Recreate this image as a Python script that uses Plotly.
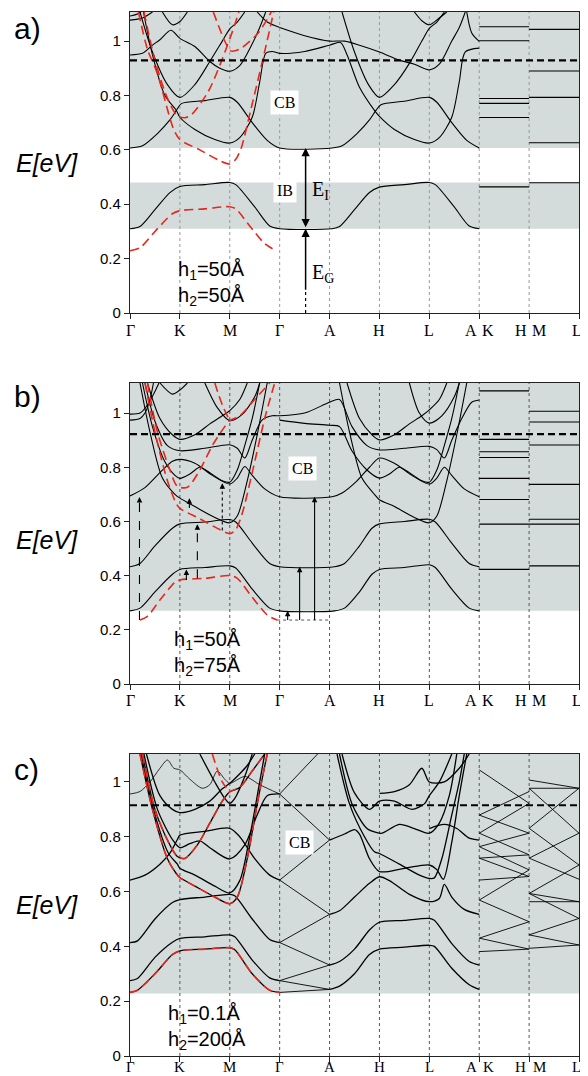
import plotly.graph_objects as go

# ---------------- axis data ----------------
k_ticks = [0, 1, 2, 3, 4, 5, 6, 7, 8, 9]
k_label_text = ["Γ", "K", "M", "Γ", "A", "H", "L", "A", "K", "H", "M", "L"]
k_label_pos = [0, 1, 2, 3, 4, 5, 6, 6.84, 7.18, 7.83, 8.2, 8.95]
e_ticks = [0, 0.2, 0.4, 0.6, 0.8, 1.0]
e_tick_text = ["0", "0.2", "0.4", "0.6", "0.8", "1"]
e_top = [1.107, 1.111, 1.102]

# shaded energy regions (bottom, top) per panel
a_shade = [(0.607, 1.107), (0.31, 0.48)]
b_shade = [(0.27, 1.111)]
c_shade = [(0.228, 1.102)]
fermi = [0.929, 0.922, 0.915]

# ---------------- panel a ----------------
a_ib = [(0, 0.31), (0.2, 0.318), (0.5, 0.38), (0.8, 0.443), (1, 0.465), (1.5, 0.472), (2, 0.48), (2.12, 0.472),
        (2.5, 0.39), (2.8, 0.32), (3, 0.31), (4.05, 0.31), (4.2, 0.318), (4.5, 0.38), (4.8, 0.443), (5, 0.463),
        (5.5, 0.472), (6, 0.48), (6.12, 0.472), (6.5, 0.39), (6.8, 0.32), (7, 0.31)]
a_cb1 = [(0, 0.607), (0.25, 0.615), (0.55, 0.66), (0.8, 0.71), (0.93, 0.745), (1.03, 0.77), (1.5, 0.781), (2, 0.793),
         (2.15, 0.775), (2.45, 0.7), (2.75, 0.635), (3, 0.607), (4.05, 0.607), (4.25, 0.615), (4.55, 0.66), (4.8, 0.71),
         (4.93, 0.745), (5.03, 0.766), (5.5, 0.779), (6, 0.793), (6.15, 0.775), (6.45, 0.7), (6.75, 0.635), (7, 0.607)]
a_cb2 = [(0.27, 1.107), (0.45, 0.95), (0.7, 0.8), (0.93, 0.745), (1, 0.72), (1.3, 0.675), (1.7, 0.638), (2, 0.625),
         (2.2, 0.645), (2.45, 0.72), (2.6, 0.85), (2.72, 0.955), (2.85, 0.962), (3, 0.955), (3.5, 0.962), (4, 0.985),
         (4.22, 0.995), (4.35, 0.95), (4.6, 0.83), (4.9, 0.745), (5, 0.723), (5.3, 0.675), (5.7, 0.638), (6, 0.625),
         (6.2, 0.645), (6.45, 0.72), (6.6, 0.85), (6.72, 0.96), (7, 0.974)]
a_cb3 = [(0.2, 1.107), (0.45, 0.96), (0.75, 0.84), (1, 0.793), (1.3, 0.84), (1.6, 0.925), (1.85, 1.0), (2, 1.045),
         (2.15, 1.07), (2.3, 1.107)]
a_cb3b = [(4.25, 1.107), (4.5, 0.96), (4.78, 0.84), (5, 0.793), (5.3, 0.84), (5.6, 0.918), (5.85, 1.0), (6, 1.047),
          (6.15, 1.07), (6.3, 1.107)]
a_cb4 = [(0, 0.949), (0.25, 0.955), (0.45, 0.985), (0.6, 1.005), (0.82, 1.04), (1, 1.01), (1.3, 0.98), (1.6, 0.925),
         (1.8, 0.9), (2, 0.889), (2.2, 0.91), (2.45, 0.99), (2.6, 1.05), (2.72, 1.107)]
a_cb4b = [(3, 1.05), (3.5, 1.02), (4, 1.0), (4.3, 1.0), (4.6, 0.985), (5, 0.96), (5.4, 0.93), (5.7, 0.915), (6, 0.894),
          (6.2, 0.915), (6.45, 1.0), (6.6, 1.05), (6.72, 1.107)]
a_top1 = [(0, 1.077), (0.25, 1.085), (0.45, 1.107)]
a_top2 = [(0, 1.092), (0.15, 1.1), (0.22, 1.107)]
a_top3 = [(0.65, 1.107), (0.85, 1.06), (1, 1.072), (1.15, 1.107)]
a_top4 = [(2.55, 1.107), (2.75, 1.07), (3, 1.05)]
a_top5 = [(6.75, 1.107), (6.85, 1.03), (7, 0.999)]
a_top6 = [(5.7, 1.107), (5.85, 1.075), (6, 1.06), (6.2, 1.085), (6.35, 1.107)]
a_kh = [1.053, 1.001, 0.789, 0.771, 0.719, 0.464]
a_ml = [1.043, 0.89, 0.793, 0.626, 0.479]
a_red1 = [(0, 0.229), (0.2, 0.24), (0.5, 0.3), (0.85, 0.365), (1, 0.376), (1.5, 0.383), (2, 0.391), (2.12, 0.383),
          (2.4, 0.32), (2.7, 0.255), (2.93, 0.229)]
a_red2 = [(0.17, 1.107), (0.35, 0.97), (0.55, 0.88), (0.87, 0.678), (1, 0.638), (1.4, 0.6), (1.8, 0.56), (2, 0.548),
          (2.12, 0.565), (2.23, 0.607), (2.43, 0.754), (2.7, 0.962), (2.88, 1.107)]
a_red3 = [(0.28, 1.107), (0.5, 0.93), (0.75, 0.79), (0.95, 0.725), (1.1, 0.718), (1.23, 0.729), (1.57, 0.815),
          (1.83, 0.925), (2.1, 1.06), (2.18, 1.107)]
a_red4 = [(1.67, 1.107), (1.9, 1.0), (2.02, 0.964), (2.2, 0.971), (2.57, 1.03), (2.83, 1.107)]

# ---------------- panel b ----------------
b1 = [(0, 0.27), (0.2, 0.28), (0.5, 0.34), (0.85, 0.405), (1, 0.423), (1.5, 0.43), (2, 0.436), (2.12, 0.428),
      (2.45, 0.35), (2.8, 0.28), (3, 0.27), (4.1, 0.27), (4.3, 0.28), (4.6, 0.34), (4.85, 0.405), (5, 0.423),
      (5.5, 0.43), (6, 0.44), (6.12, 0.43), (6.45, 0.35), (6.8, 0.28), (7, 0.27)]
b2 = [(0, 0.433), (0.2, 0.445), (0.5, 0.51), (0.85, 0.575), (1, 0.591), (1.5, 0.598), (2, 0.607), (2.12, 0.598),
      (2.45, 0.52), (2.8, 0.445), (3, 0.433), (4.1, 0.433), (4.3, 0.445), (4.6, 0.51), (4.85, 0.575), (5, 0.591),
      (5.5, 0.6), (6, 0.608), (6.12, 0.598), (6.45, 0.52), (6.8, 0.445), (7, 0.433)]
b3 = [(0, 0.694), (0.3, 0.725), (0.6, 0.78), (0.85, 0.822), (1, 0.829), (1.3, 0.815), (1.65, 0.77), (2, 0.738),
      (2.15, 0.76), (2.3, 0.803), (2.45, 0.77), (2.7, 0.72), (3, 0.691), (4.05, 0.691), (4.25, 0.705), (4.55, 0.75),
      (4.8, 0.8), (5, 0.834), (5.3, 0.815), (5.65, 0.77), (6, 0.738), (6.15, 0.76), (6.3, 0.8), (6.45, 0.77),
      (6.7, 0.72), (7, 0.691)]
b4 = [(0.25, 1.111), (0.45, 0.95), (0.7, 0.82), (0.9, 0.77), (1, 0.759), (1.2, 0.775), (1.4, 0.8), (1.6, 0.78),
      (1.85, 0.75), (2, 0.745), (2.15, 0.79), (2.3, 0.88), (2.45, 0.98), (2.6, 1.111)]
b4b = [(3, 0.974), (3.5, 0.962), (4, 0.955), (4.2, 0.95), (4.45, 0.86), (4.75, 0.79), (5, 0.76), (5.2, 0.775),
       (5.4, 0.8), (5.6, 0.78), (5.85, 0.75), (6, 0.745), (6.15, 0.79), (6.3, 0.88), (6.45, 0.98), (6.6, 1.111)]
b5 = [(0.3, 1.111), (0.5, 0.97), (0.75, 0.88), (1, 0.861), (1.5, 0.87), (2, 0.883), (2.15, 0.87), (2.3, 0.834),
      (2.45, 0.9), (2.65, 0.975), (2.85, 0.99), (3, 0.99), (3.5, 1.0), (4, 1.04), (4.2, 1.05), (4.45, 0.95),
      (4.75, 0.88), (5, 0.864), (5.5, 0.87), (6, 0.877), (6.15, 0.865), (6.3, 0.834), (6.45, 0.9), (6.65, 0.98),
      (6.85, 1.04), (7, 1.048)]
b6 = [(0.35, 1.111), (0.6, 0.98), (0.85, 0.92), (1, 0.903), (1.3, 0.92), (1.6, 0.96), (1.85, 0.99), (2, 1.009),
      (2.2, 1.05), (2.35, 1.111)]
b6b = [(4.35, 1.111), (4.6, 0.98), (4.85, 0.92), (5, 0.901), (5.3, 0.92), (5.6, 0.96), (5.85, 0.99), (6, 1.012),
       (6.2, 1.05), (6.35, 1.111)]
b7 = [(1.5, 1.111), (1.75, 1.02), (2, 0.972), (2.25, 0.995), (2.5, 1.06), (2.6, 1.111)]
b7b = [(5.6, 1.111), (5.8, 1.0), (6, 0.963), (6.25, 0.99), (6.5, 1.06), (6.6, 1.111)]
b8 = [(0.2, 1.111), (0.4, 0.93), (0.65, 0.76), (0.9, 0.7), (1, 0.686), (1.3, 0.655), (1.7, 0.615), (2, 0.595),
      (2.15, 0.62), (2.35, 0.75), (2.55, 0.92), (2.75, 1.111)]
b8b = [(4.2, 1.111), (4.4, 0.93), (4.65, 0.76), (4.9, 0.7), (5, 0.68), (5.3, 0.655), (5.7, 0.615), (6, 0.595),
       (6.15, 0.62), (6.35, 0.75), (6.55, 0.92), (6.75, 1.111)]
b9 = [(0, 0.996), (0.2, 1.0), (0.35, 1.03), (0.5, 1.08), (0.58, 1.111)]
b10 = [(0, 0.974), (0.2, 0.98), (0.3, 1.0), (0.4, 1.05), (0.47, 1.111)]
b11 = [(0.6, 1.111), (0.85, 1.07), (1, 1.085), (1.15, 1.111)]
b_kh = [1.082, 0.903, 0.857, 0.836, 0.759, 0.681, 0.59, 0.423]
b_ml = [1.007, 0.967, 0.882, 0.737, 0.608, 0.59, 0.436]
b_red1 = [(0.2, 0.236), (0.35, 0.25), (0.6, 0.31), (0.9, 0.375), (1, 0.384), (1.5, 0.39), (2, 0.4), (2.15, 0.39),
          (2.45, 0.32), (2.75, 0.255), (2.95, 0.236)]
b_red2 = [(0.3, 1.111), (0.5, 0.93), (0.75, 0.75), (0.93, 0.665), (1, 0.648), (1.4, 0.61), (1.8, 0.57), (2, 0.555),
          (2.12, 0.57), (2.25, 0.63), (2.45, 0.78), (2.7, 0.98), (2.9, 1.111)]
b_red3 = [(0.35, 1.111), (0.55, 0.93), (0.8, 0.79), (0.95, 0.73), (1.15, 0.726), (1.4, 0.79), (1.65, 0.88),
          (1.9, 0.95), (2, 0.972), (2.2, 0.99), (2.5, 1.05), (2.8, 1.111)]
b_red4 = [(1.7, 1.111), (1.85, 1.03), (2, 0.972)]
# optical transitions (k, E from, E to, style)
b_arrow_k = [0.19, 1.13, 1.19, 1.35, 1.85, 3.16, 3.4, 3.7]
b_arrow_from = [0.236, 0.384, 0.65, 0.39, 0.567, 0.236, 0.236, 0.236]
b_arrow_to = [0.69, 0.423, 0.686, 0.59, 0.741, 0.27, 0.433, 0.691]
b_arrow_dash = ["dash", "solid", "solid", "dash", "dot", "solid", "solid", "solid"]

# ---------------- panel c ----------------
c1 = [(0, 0.232), (0.15, 0.24), (0.5, 0.3), (0.85, 0.37), (1, 0.384), (1.5, 0.39), (2, 0.395), (2.1, 0.388),
      (2.45, 0.3), (2.8, 0.24), (3, 0.232)]
c2 = [(0, 0.275), (0.15, 0.283), (0.5, 0.36), (0.85, 0.415), (1, 0.429), (1.5, 0.435), (2, 0.442), (2.1, 0.435),
      (2.45, 0.35), (2.8, 0.285), (3, 0.275)]
c3 = [(0, 0.414), (0.15, 0.42), (0.5, 0.5), (0.85, 0.56), (1, 0.571), (1.5, 0.58), (2, 0.59), (2.1, 0.585),
      (2.45, 0.5), (2.8, 0.425), (3, 0.414)]
c4 = [(0, 0.642), (0.3, 0.66), (0.6, 0.7), (0.8, 0.74), (0.95, 0.79), (1, 0.806), (1.5, 0.82), (2, 0.831),
      (2.2, 0.8), (2.5, 0.72), (2.8, 0.66), (3, 0.642)]
c5 = [(0.2, 1.102), (0.45, 0.9), (0.75, 0.72), (0.93, 0.665), (1, 0.651), (1.3, 0.62), (1.7, 0.58), (2, 0.556),
      (2.15, 0.58), (2.35, 0.72), (2.55, 0.92), (2.75, 1.102)]
c6 = [(0.22, 1.102), (0.47, 0.9), (0.77, 0.74), (0.95, 0.7), (1, 0.685), (1.3, 0.66), (1.7, 0.62), (2, 0.595),
      (2.2, 0.64), (2.4, 0.8), (2.6, 1.0), (2.7, 1.102)]
c7 = [(0.25, 1.102), (0.5, 0.9), (0.8, 0.77), (0.95, 0.728), (1.1, 0.721), (1.35, 0.77), (1.6, 0.85), (1.85, 0.93),
      (2, 0.964), (2.2, 0.98), (2.45, 1.04), (2.7, 1.102)]
c8 = [(0.28, 1.102), (0.55, 0.9), (0.85, 0.79), (1, 0.76), (1.2, 0.775), (1.4, 0.785), (1.6, 0.76), (2, 0.719),
      (2.3, 0.77), (2.55, 0.88), (2.75, 0.95), (3, 0.956)]
c9 = [(0.33, 1.102), (0.6, 0.95), (0.85, 0.9), (1, 0.888), (1.3, 0.9), (1.6, 0.93), (1.85, 0.975), (2, 0.995),
      (2.2, 1.03), (2.35, 1.06), (2.5, 1.102)]
c10 = [(1.4, 1.102), (1.7, 1.0), (1.9, 0.94), (2, 0.922), (2.1, 0.94), (2.3, 1.02), (2.45, 1.102)]
c11 = [(0, 0.956), (0.2, 0.965), (0.4, 1.0), (0.6, 1.05), (0.75, 1.08), (0.88, 1.05), (1, 1.044), (1.2, 1.01),
       (1.45, 0.977), (1.6, 0.99), (1.75, 1.04), (1.9, 1.01), (2, 0.995), (2.3, 1.02), (2.6, 0.99), (3, 0.956)]
c_ga_from = [0.956, 0.956, 0.642, 0.642, 0.414, 0.414, 0.275, 0.275, 0.232]
c_ga_to = [1.148, 0.788, 0.788, 0.517, 0.517, 0.332, 0.332, 0.243, 0.243]
c_ah1 = [(4, 0.243), (4.2, 0.255), (4.5, 0.3), (4.8, 0.37), (5, 0.39), (5.5, 0.397), (6, 0.404), (6.1, 0.4),
         (6.45, 0.32), (6.8, 0.26), (7, 0.243)]
c_ah2 = [(4, 0.332), (4.2, 0.345), (4.5, 0.39), (4.8, 0.46), (5, 0.488), (5.5, 0.495), (6, 0.502), (6.1, 0.495),
         (6.45, 0.41), (6.8, 0.345), (7, 0.332)]
c_ah3 = [(4, 0.517), (4.2, 0.53), (4.5, 0.58), (4.8, 0.63), (5, 0.654), (5.2, 0.64), (5.6, 0.59), (6, 0.563),
         (6.2, 0.575), (6.3, 0.626), (6.45, 0.58), (6.7, 0.535), (7, 0.517)]
c_ah4 = [(4, 0.788), (4.3, 0.81), (4.5, 0.826), (4.6, 0.81), (4.8, 0.72), (5, 0.673), (5.5, 0.685), (6, 0.697),
         (6.15, 0.68), (6.28, 0.645), (6.45, 0.78), (6.6, 0.95), (6.75, 1.102)]
c_ah5 = [(6.0, 0.83), (6.3, 0.845), (6.55, 0.83), (6.8, 0.795), (7, 0.788)]
c_ah6 = [(4.15, 1.102), (4.4, 0.92), (4.7, 0.8), (4.9, 0.745), (5, 0.739), (5.4, 0.7), (5.8, 0.66), (6, 0.648),
         (6.1, 0.65), (6.25, 0.72), (6.45, 0.88), (6.6, 1.0), (6.7, 1.102)]
c_ah7 = [(4.2, 1.102), (4.45, 0.92), (4.75, 0.83), (4.95, 0.815), (5.05, 0.813), (5.4, 0.845), (5.7, 0.83),
         (6, 0.813), (6.2, 0.85), (6.4, 0.95), (6.55, 1.102)]
c_ah8 = [(4.25, 1.102), (4.5, 0.96), (4.8, 0.9), (5, 0.93), (5.3, 0.93), (5.65, 0.9), (5.9, 0.92), (6, 0.95),
         (6.2, 1.0), (6.45, 1.102)]
c_ah9 = [(5, 0.958), (5.3, 0.965), (5.6, 0.99), (5.85, 1.05), (6, 1.0), (6.3, 1.0), (6.6, 1.05), (6.8, 1.102)]
c_kh_from = [1.044, 0.879, 0.879, 0.813, 0.813, 0.764, 0.764, 0.722, 0.722, 0.642, 0.569, 0.569, 0.43, 0.43, 0.381]
c_kh_to = [0.922, 0.965, 0.813, 0.922, 0.734, 0.813, 0.679, 0.734, 0.655, 0.655, 0.679, 0.49, 0.49, 0.39, 0.39]
c_ml_from = [1.007, 0.977, 0.977, 0.831, 0.831, 0.722, 0.722, 0.593, 0.593, 0.593, 0.563, 0.442, 0.442, 0.393]
c_ml_to = [0.977, 0.977, 0.813, 0.977, 0.697, 0.813, 0.645, 0.697, 0.563, 0.502, 0.563, 0.502, 0.405, 0.405]
c_red4 = [(1.65, 1.102), (1.85, 1.0), (2, 0.964)]

# ---------------- figure geometry ----------------
# the page body adds an 8 px margin, so the figure is drawn 8 px smaller and shifted
OFF = 8
W, H = 588 - OFF, 1076 - OFF
ML, MR, MT, MB = 130 - OFF, 9, 12 - OFF, 20
PH = H - MT - MB
PW = W - ML - MR
panel_px = [(12, 313), (383, 684), (754, 1056)]   # page pixel rows of each plot area
label_gap = [-0.022, -0.02, -0.003]               # x-label offset below each axis (domain fraction)
label_size = [16, 16, 15]


def dom(top_px, bot_px):
    return [(H - MB - (bot_px - OFF)) / PH, (H - MB - (top_px - OFF)) / PH]


def px_x(px):
    return (px - OFF - ML) / PW


def px_y(py):
    return (H - MB - (py - OFF)) / PH


fig = go.Figure()
AX = [("x", "y"), ("x2", "y2"), ("x3", "y3")]
RED = "#e8261c"


def band(nodes, p, color="black", width=1.1, dash="solid"):
    fig.add_trace(go.Scatter(
        x=[n[0] for n in nodes], y=[n[1] for n in nodes], mode="lines",
        line=dict(color=color, width=width, dash=dash, shape="spline", smoothing=0.8),
        xaxis=AX[p][0], yaxis=AX[p][1], hoverinfo="skip", showlegend=False))


def seg(k0, k1, e0, e1, p, color="black", width=1.1, dash="solid"):
    fig.add_trace(go.Scatter(
        x=[k0, k1], y=[e0, e1], mode="lines",
        line=dict(color=color, width=width, dash=dash),
        xaxis=AX[p][0], yaxis=AX[p][1], hoverinfo="skip", showlegend=False))


red_dash = "9px,5px"

# panel a
for nodes in [a_ib, a_cb1, a_cb2, a_cb3, a_cb3b, a_cb4, a_cb4b, a_top1, a_top2, a_top3, a_top4, a_top5, a_top6]:
    band(nodes, 0)
for e in a_kh:
    seg(7, 8, e, e, 0)
for e in a_ml:
    seg(8, 9, e, e, 0)
for nodes in [a_red1, a_red2, a_red3, a_red4]:
    band(nodes, 0, RED, 1.6, red_dash)

# panel b
for nodes in [b1, b2, b3, b4, b4b, b5, b6, b6b, b7, b7b, b8, b8b, b9, b10, b11]:
    band(nodes, 1)
for e in b_kh:
    seg(7, 8, e, e, 1)
for e in b_ml:
    seg(8, 9, e, e, 1)
for nodes in [b_red1, b_red2, b_red3, b_red4]:
    band(nodes, 1, RED, 1.6, red_dash)
seg(2.95, 4, 0.236, 0.236, 1, "#555", 1, "dot")
for k, e0, e1, d in zip(b_arrow_k, b_arrow_from, b_arrow_to, b_arrow_dash):
    seg(k, k, e0, e1 - 0.012, 1, "black", 1.1, d)

# panel c
for nodes in [c1, c2, c3, c4, c5, c6, c7, c8, c9, c10, c_ah1, c_ah2, c_ah3, c_ah4, c_ah5, c_ah6, c_ah7, c_ah8, c_ah9]:
    band(nodes, 2, width=1.3)
band(c11, 2, width=0.8)
for e0, e1 in zip(c_ga_from, c_ga_to):
    seg(3, 4, e0, e1, 2, width=0.9)
for e0, e1 in zip(c_kh_from, c_kh_to):
    seg(7, 8, e0, e1, 2, width=0.9)
for e0, e1 in zip(c_ml_from, c_ml_to):
    seg(8, 9, e0, e1, 2, width=0.9)
for nodes in [c1, c5, c7, c_red4]:
    band(nodes, 2, RED, 1.6, red_dash)

# dashed horizontal reference lines
for p in range(3):
    seg(0, 9, fermi[p], fermi[p], p, "black", 2.2, "7px,4px")

# panel a E_G dotted foot
seg(3.52, 3.52, 0.0, 0.08, 0, "black", 1.2, "dot")

shapes = []
annotations = []
shade_sets = [a_shade, b_shade, c_shade]
for p in range(3):
    xr, yr = AX[p]
    for y0, y1 in shade_sets[p]:
        shapes.append(dict(type="rect", xref=xr, yref=yr, x0=0, x1=9, y0=y0, y1=y1,
                           fillcolor="#d3dcda", line=dict(width=0), layer="below"))
    for k in k_ticks[1:-1]:
        shapes.append(dict(type="line", xref=xr, yref=yr, x0=k, x1=k, y0=0, y1=e_top[p],
                           line=dict(color="#999" if p == 0 else "#555", width=1, dash="dot"), layer="below"))
    for txt, kx in zip(k_label_text, k_label_pos):
        annotations.append(dict(text=txt, x=kx, y=label_gap[p], xref=xr, yref=yr + " domain",
                                showarrow=False, yanchor="top", xanchor="center",
                                font=dict(family="Liberation Serif", size=label_size[p], color="black")))

# panel labels
for txt, yp in zip(["a)", "b)", "c)"], [28, 396, 769]):
    annotations.append(dict(text=txt, x=px_x(12), y=px_y(yp), xref="paper", yref="paper",
                            showarrow=False, xanchor="left", yanchor="middle",
                            font=dict(family="Liberation Sans", size=30, color="black")))
for yp in [163, 540, 905]:
    annotations.append(dict(text="<i>E[eV]</i>", x=px_x(47), y=px_y(yp), xref="paper",
                            yref="paper", showarrow=False, xanchor="center", yanchor="middle",
                            font=dict(family="Liberation Sans", size=25, color="black")))

# h labels
h_texts = ["h<sub>1</sub>=50Å<br>h<sub>2</sub>=50Å", "h<sub>1</sub>=50Å<br>h<sub>2</sub>=75Å",
           "h<sub>1</sub>=0.1Å<br>h<sub>2</sub>=200Å"]
h_pos = [(1.64, 0.108), (1.56, 0.113), (1.54, 0.104)]
for p in range(3):
    annotations.append(dict(text=h_texts[p], x=h_pos[p][0], y=h_pos[p][1], xref=AX[p][0], yref=AX[p][1],
                            showarrow=False, xanchor="center", yanchor="middle", align="left",
                            font=dict(family="Liberation Sans", size=20, color="black")))

# CB / IB boxes
box_labels = [("CB", 3.1, 0.776, 0), ("IB", 3.1, 0.449, 0), ("CB", 3.46, 0.797, 1), ("CB", 3.4, 0.78, 2)]
for txt, kx, ey, p in box_labels:
    annotations.append(dict(text=txt, x=kx, y=ey, xref=AX[p][0], yref=AX[p][1], showarrow=False,
                            bgcolor="white", borderpad=3,
                            font=dict(family="Liberation Serif", size=16, color="black")))

# E_I / E_G
annotations.append(dict(text="", x=3.52, y=0.607, ax=3.52, ay=0.31, xref="x", yref="y", axref="x", ayref="y",
                        showarrow=True, arrowhead=2, arrowside="end+start", arrowsize=1.1, arrowwidth=1.5,
                        arrowcolor="black"))
annotations.append(dict(text="", x=3.52, y=0.31, ax=3.52, ay=0.08, xref="x", yref="y", axref="x", ayref="y",
                        showarrow=True, arrowhead=2, arrowsize=1.1, arrowwidth=1.5, arrowcolor="black"))
annotations.append(dict(text="E<sub>I</sub>", x=3.6, y=0.45, xref="x", yref="y", showarrow=False,
                        xanchor="left", font=dict(family="Liberation Serif", size=20, color="black")))
annotations.append(dict(text="E<sub>G</sub>", x=3.6, y=0.145, xref="x", yref="y", showarrow=False,
                        xanchor="left", font=dict(family="Liberation Serif", size=20, color="black")))

# arrowheads for panel b transitions
for k, e1 in zip(b_arrow_k, b_arrow_to):
    annotations.append(dict(text="", x=k, y=e1, ax=0, ay=7, xref="x2", yref="y2", showarrow=True,
                            arrowhead=2, arrowsize=1, arrowwidth=1.1, arrowcolor="black"))

layout = dict(width=W, height=H, margin=dict(l=ML, r=MR, t=MT, b=MB),
              plot_bgcolor="white", paper_bgcolor="white", showlegend=False,
              shapes=shapes, annotations=annotations)
for p in range(3):
    xs = "xaxis" if p == 0 else f"xaxis{p + 1}"
    ys = "yaxis" if p == 0 else f"yaxis{p + 1}"
    d = dom(*panel_px[p])
    layout[xs] = dict(domain=[0, 1], range=[0, 9], anchor=AX[p][1], showline=True, linecolor="#222",
                      linewidth=1.3, mirror=True, ticks="outside", tickvals=k_ticks, ticklen=5,
                      tickcolor="#222", showticklabels=False, showgrid=False, zeroline=False)
    layout[ys] = dict(domain=d, range=[0, e_top[p]], anchor=AX[p][0], showline=True, linecolor="#222",
                      linewidth=1.3, mirror=True, ticks="outside", tickvals=e_ticks, ticktext=e_tick_text,
                      ticklen=5, tickcolor="#222", showgrid=False, zeroline=False,
                      tickfont=dict(family="Liberation Sans", size=15, color="black"))
fig.update_layout(**layout)
fig.write_html("out.html")
